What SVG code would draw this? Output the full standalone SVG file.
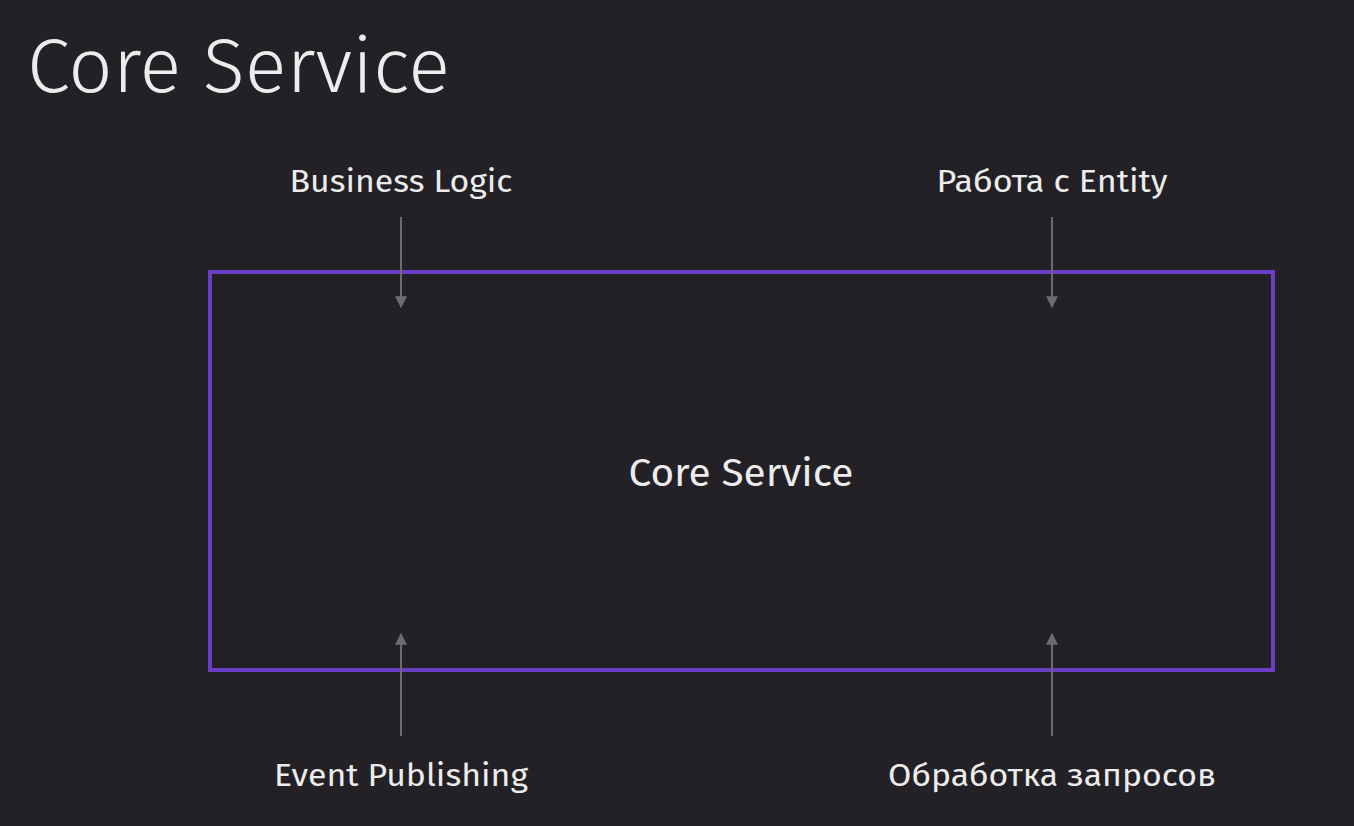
<svg xmlns="http://www.w3.org/2000/svg" width="1354" height="826" viewBox="0 0 1354 826">
<defs>
<style>
.t{font-family:"Fira Sans","Open Sans","Noto Sans",sans-serif;fill:#ececec}
.lbl{font-size:31px;text-anchor:middle}
.conn{stroke:#6c6b70;stroke-width:2;fill:none}
</style>
<marker id="ah" viewBox="0 0 10 10" refX="9" refY="5" markerWidth="14" markerHeight="12" markerUnits="userSpaceOnUse" orient="auto">
<path d="M0,0 L10,5 L0,10 z" fill="#6c6b70"/>
</marker>
</defs>
<rect width="1354" height="826" fill="#232026"/>
<text class="t" x="27" y="92" font-size="76" font-weight="300" textLength="423" lengthAdjust="spacingAndGlyphs">Core Service</text>
<g id="core">
<rect x="210" y="272" width="1063" height="398" fill="none" stroke="#6a3fc6" stroke-width="4"/>
<text class="t" x="741" y="486" font-size="38" text-anchor="middle" textLength="225" lengthAdjust="spacingAndGlyphs">Core Service</text>
</g>
<g id="business-logic"><text class="t lbl" x="401" y="192" textLength="223" lengthAdjust="spacingAndGlyphs">Business Logic</text></g>
<g id="entity"><text class="t lbl" x="1052" y="192" textLength="231" lengthAdjust="spacingAndGlyphs">Работа с Entity</text></g>
<g id="event-publishing"><text class="t lbl" x="401" y="786" textLength="254" lengthAdjust="spacingAndGlyphs">Event Publishing</text></g>
<g id="requests"><text class="t lbl" x="1052" y="786" textLength="328" lengthAdjust="spacingAndGlyphs">Обработка запросов</text></g>
<g id="connectors">
<line class="conn" x1="401" y1="217" x2="401" y2="307" marker-end="url(#ah)"/>
<line class="conn" x1="1052" y1="217" x2="1052" y2="307" marker-end="url(#ah)"/>
<line class="conn" x1="401" y1="736" x2="401" y2="634" marker-end="url(#ah)"/>
<line class="conn" x1="1052" y1="736" x2="1052" y2="634" marker-end="url(#ah)"/>
</g>
</svg>
